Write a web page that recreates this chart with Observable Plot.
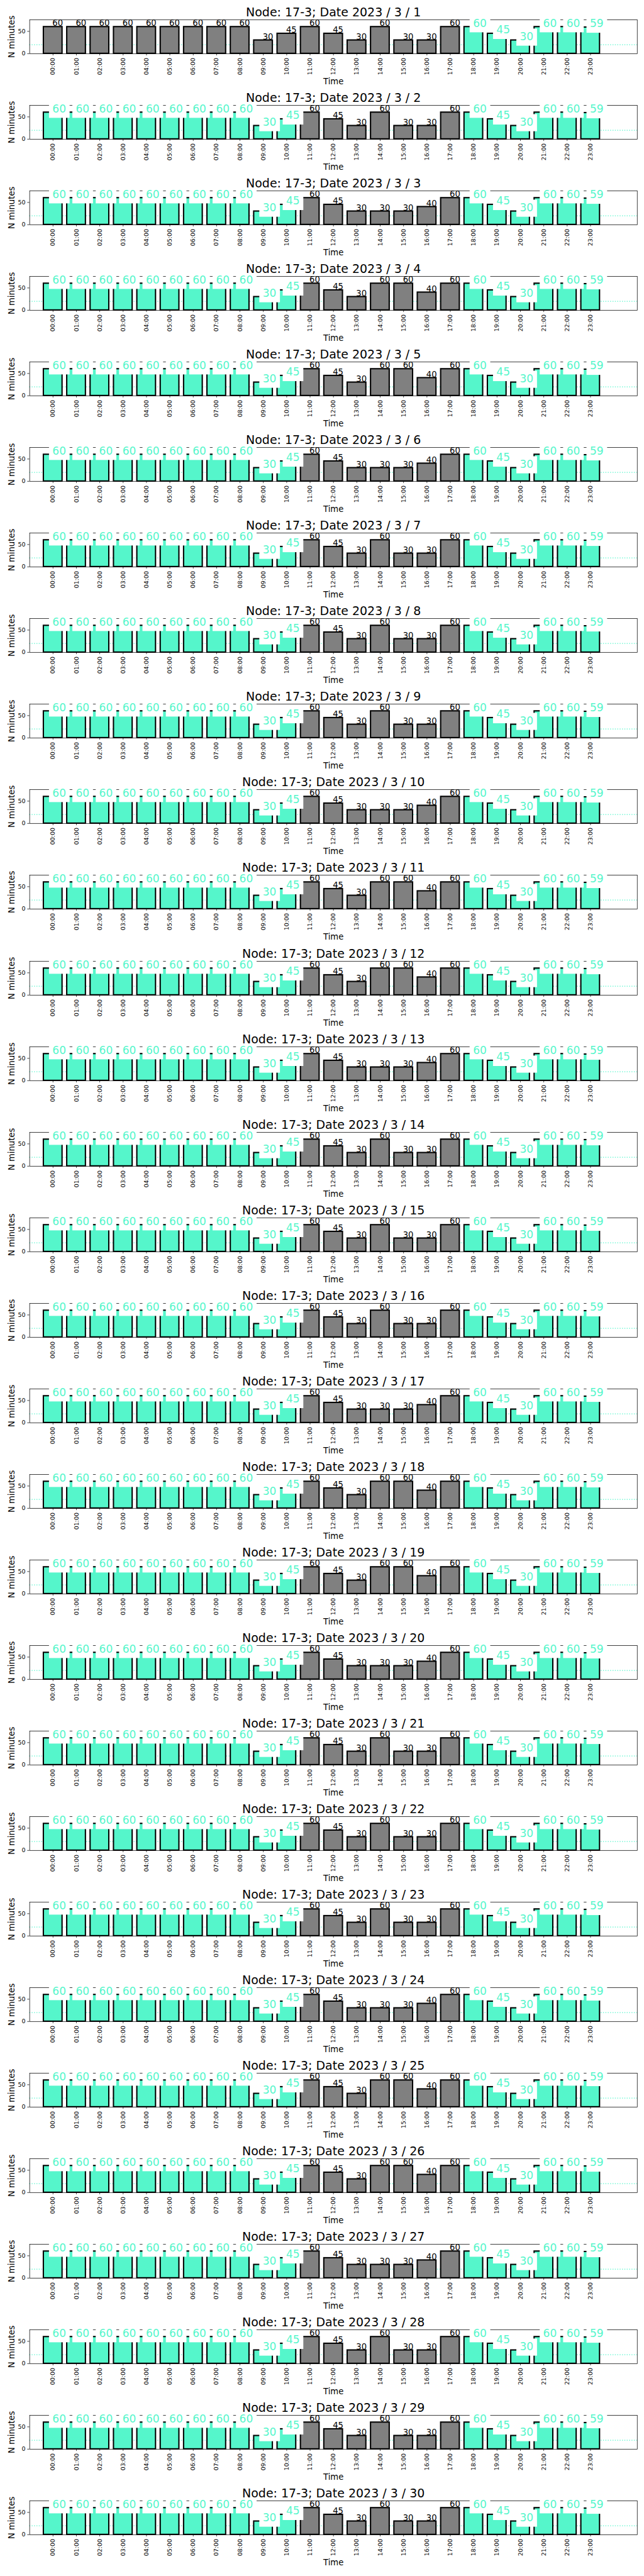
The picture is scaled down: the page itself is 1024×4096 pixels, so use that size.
<!DOCTYPE html>
<html>
<head>
<meta charset="utf-8">
<script src="https://cdn.jsdelivr.net/npm/d3@7"></script>
<script src="https://cdn.jsdelivr.net/npm/@observablehq/plot@0.6"></script>
<style>
  html, body { margin: 0; padding: 0; background: #ffffff; }
  #charts { width: 1023px; }
  #charts svg { display: block; }
</style>
</head>
<body>
<div id="charts"></div>
<script>
// ---------------- data ----------------
const node = "17-3";
const year = 2023;
const month = 3;
const days = [1, 2, 3, 4, 5, 6, 7, 8, 9, 10, 11, 12, 13, 14, 15, 16, 17, 18, 19, 20, 21, 22, 23, 24, 25, 26, 27, 28, 29, 30];
const hourLabels = ["00:00", "01:00", "02:00", "03:00", "04:00", "05:00", "06:00", "07:00", "08:00", "09:00", "10:00", "11:00",
                    "12:00", "13:00", "14:00", "15:00", "16:00", "17:00", "18:00", "19:00", "20:00", "21:00", "22:00", "23:00"];
const yTicks = [0, 50];
const threshold = 20;

// minutes per hour, one row per day (3/1 .. 3/30)
const minutes = [
  [60,60,60,60,60,60,60,60,60,30,45,60,45,30,60,30,30,60,60,45,30,60,60,59],
  [60,60,60,60,60,60,60,60,60,30,45,60,45,30,60,30,30,60,60,45,30,60,60,59],
  [60,60,60,60,60,60,60,60,60,30,45,60,45,30,30,30,40,60,60,45,30,60,60,59],
  [60,60,60,60,60,60,60,60,60,30,45,60,45,30,60,60,40,60,60,45,30,60,60,59],
  [60,60,60,60,60,60,60,60,60,30,45,60,45,30,60,60,40,60,60,45,30,60,60,59],
  [60,60,60,60,60,60,60,60,60,30,45,60,45,30,30,30,40,60,60,45,30,60,60,59],
  [60,60,60,60,60,60,60,60,60,30,45,60,45,30,60,30,30,60,60,45,30,60,60,59],
  [60,60,60,60,60,60,60,60,60,30,45,60,45,30,60,30,30,60,60,45,30,60,60,59],
  [60,60,60,60,60,60,60,60,60,30,45,60,45,30,60,30,30,60,60,45,30,60,60,59],
  [60,60,60,60,60,60,60,60,60,30,45,60,45,30,30,30,40,60,60,45,30,60,60,59],
  [60,60,60,60,60,60,60,60,60,30,45,60,45,30,60,60,40,60,60,45,30,60,60,59],
  [60,60,60,60,60,60,60,60,60,30,45,60,45,30,60,60,40,60,60,45,30,60,60,59],
  [60,60,60,60,60,60,60,60,60,30,45,60,45,30,30,30,40,60,60,45,30,60,60,59],
  [60,60,60,60,60,60,60,60,60,30,45,60,45,30,60,30,30,60,60,45,30,60,60,59],
  [60,60,60,60,60,60,60,60,60,30,45,60,45,30,60,30,30,60,60,45,30,60,60,59],
  [60,60,60,60,60,60,60,60,60,30,45,60,45,30,60,30,30,60,60,45,30,60,60,59],
  [60,60,60,60,60,60,60,60,60,30,45,60,45,30,30,30,40,60,60,45,30,60,60,59],
  [60,60,60,60,60,60,60,60,60,30,45,60,45,30,60,60,40,60,60,45,30,60,60,59],
  [60,60,60,60,60,60,60,60,60,30,45,60,45,30,60,60,40,60,60,45,30,60,60,59],
  [60,60,60,60,60,60,60,60,60,30,45,60,45,30,30,30,40,60,60,45,30,60,60,59],
  [60,60,60,60,60,60,60,60,60,30,45,60,45,30,60,30,30,60,60,45,30,60,60,59],
  [60,60,60,60,60,60,60,60,60,30,45,60,45,30,60,30,30,60,60,45,30,60,60,59],
  [60,60,60,60,60,60,60,60,60,30,45,60,45,30,60,30,30,60,60,45,30,60,60,59],
  [60,60,60,60,60,60,60,60,60,30,45,60,45,30,30,30,40,60,60,45,30,60,60,59],
  [60,60,60,60,60,60,60,60,60,30,45,60,45,30,60,60,40,60,60,45,30,60,60,59],
  [60,60,60,60,60,60,60,60,60,30,45,60,45,30,60,60,40,60,60,45,30,60,60,59],
  [60,60,60,60,60,60,60,60,60,30,45,60,45,30,30,30,40,60,60,45,30,60,60,59],
  [60,60,60,60,60,60,60,60,60,30,45,60,45,30,60,30,30,60,60,45,30,60,60,59],
  [60,60,60,60,60,60,60,60,60,30,45,60,45,30,60,30,30,60,60,45,30,60,60,59],
  [60,60,60,60,60,60,60,60,60,30,45,60,45,30,60,30,30,60,60,45,30,60,60,59]
];

// hour group per day: "g" = grey bar, "a" = highlighted (aquamarine) bar
const groups = [
  "ggggggggggggggggggaaaaaa",
  "aaaaaaaaaaagggggggaaaaaa",
  "aaaaaaaaaaagggggggaaaaaa",
  "aaaaaaaaaaagggggggaaaaaa",
  "aaaaaaaaaaagggggggaaaaaa",
  "aaaaaaaaaaagggggggaaaaaa",
  "aaaaaaaaaaagggggggaaaaaa",
  "aaaaaaaaaaagggggggaaaaaa",
  "aaaaaaaaaaagggggggaaaaaa",
  "aaaaaaaaaaagggggggaaaaaa",
  "aaaaaaaaaaagggggggaaaaaa",
  "aaaaaaaaaaagggggggaaaaaa",
  "aaaaaaaaaaagggggggaaaaaa",
  "aaaaaaaaaaagggggggaaaaaa",
  "aaaaaaaaaaagggggggaaaaaa",
  "aaaaaaaaaaagggggggaaaaaa",
  "aaaaaaaaaaagggggggaaaaaa",
  "aaaaaaaaaaagggggggaaaaaa",
  "aaaaaaaaaaagggggggaaaaaa",
  "aaaaaaaaaaagggggggaaaaaa",
  "aaaaaaaaaaagggggggaaaaaa",
  "aaaaaaaaaaagggggggaaaaaa",
  "aaaaaaaaaaagggggggaaaaaa",
  "aaaaaaaaaaagggggggaaaaaa",
  "aaaaaaaaaaagggggggaaaaaa",
  "aaaaaaaaaaagggggggaaaaaa",
  "aaaaaaaaaaagggggggaaaaaa",
  "aaaaaaaaaaagggggggaaaaaa",
  "aaaaaaaaaaagggggggaaaaaa",
  "aaaaaaaaaaagggggggaaaaaa"
];

// ---------------- styling ----------------
const AQUA = "#55f6cb";
const GREY = "#808080";
const W = 1023;
const H = 136.06;
const M_TOP = 30.93, M_LEFT = 46.6, M_RIGHT = 10.2, AX_H = 53.88;
const FONT = "DejaVu Sans";

const container = document.getElementById("charts");
const hourIndex = hourLabels.map((_, i) => i);

days.forEach((day, k) => {
  const rows = minutes[k].map((v, i) => ({hour: i, value: v, group: groups[k][i]}));
  const greyRows = rows.filter(d => d.group === "g");
  const aquaRows = rows.filter(d => d.group === "a");
  const title = `Node: ${node}; Date ${year} / ${month} / ${day}`;

  const chart = Plot.plot({
    width: W,
    height: H,
    marginTop: M_TOP,
    marginLeft: M_LEFT,
    marginRight: M_RIGHT,
    marginBottom: H - M_TOP - AX_H,
    x: {type: "linear", domain: [-1, 25]},
    y: {type: "linear", domain: [0, 76]},
    style: {fontFamily: FONT, fontSize: "9.5px", color: "black", background: "white", overflow: "visible"},
    marks: [
      Plot.ruleY([threshold], {stroke: AQUA, strokeWidth: 1.42, strokeDasharray: "1.42,2.35"}),
      Plot.rect(greyRows, {x1: d => d.hour - 0.4, x2: d => d.hour + 0.4, y1: 0, y2: "value",
                           fill: GREY, stroke: "black", strokeWidth: 2.05}),
      Plot.rect(aquaRows, {x1: d => d.hour - 0.4, x2: d => d.hour + 0.4, y1: 0, y2: "value",
                           fill: AQUA, stroke: "black", strokeWidth: 2.05}),
      Plot.frame({stroke: "black", strokeWidth: 0.75}),
      Plot.axisX({ticks: hourIndex, tickFormat: i => hourLabels[i], tickRotate: -90,
                  tickSize: 3.3, tickPadding: 3.3, fontSize: 9.5, strokeWidth: 0.75, label: null}),
      Plot.axisY({ticks: yTicks, tickSize: 3.3, tickPadding: 3.3, fontSize: 9.5, strokeWidth: 0.75, label: null}),
      Plot.text(greyRows, {x: "hour", y: "value", text: d => String(d.value), textAnchor: "start",
                           lineAnchor: "bottom", fontSize: 13.2, fill: "black", dx: -1, dy: -1.3}),
      Plot.rect(aquaRows, {x1: "hour", x2: "hour", y1: "value", y2: "value", fill: "white",
                           insetLeft: -5.9, insetRight: -26.9, insetTop: -18.1, insetBottom: -9.1}),
      Plot.text(aquaRows, {x: "hour", y: "value", text: d => String(d.value), textAnchor: "start",
                           lineAnchor: "bottom", fontSize: 17.05, fill: AQUA, dx: -1, dy: 0}),
      Plot.text([title], {frameAnchor: "top", dy: -5.4, textAnchor: "middle", lineAnchor: "bottom", fontSize: 19, fill: "black"}),
      Plot.text(["Time"], {frameAnchor: "bottom", dy: 48.8, textAnchor: "middle", lineAnchor: "bottom", fontSize: 13.2, fill: "black"}),
      Plot.text(["N minutes"], {frameAnchor: "left", dx: -23.8, rotate: -90, textAnchor: "middle", lineAnchor: "bottom", fontSize: 13.2, fill: "black"})
    ]
  });
  container.appendChild(chart);
});
</script>
</body>
</html>
